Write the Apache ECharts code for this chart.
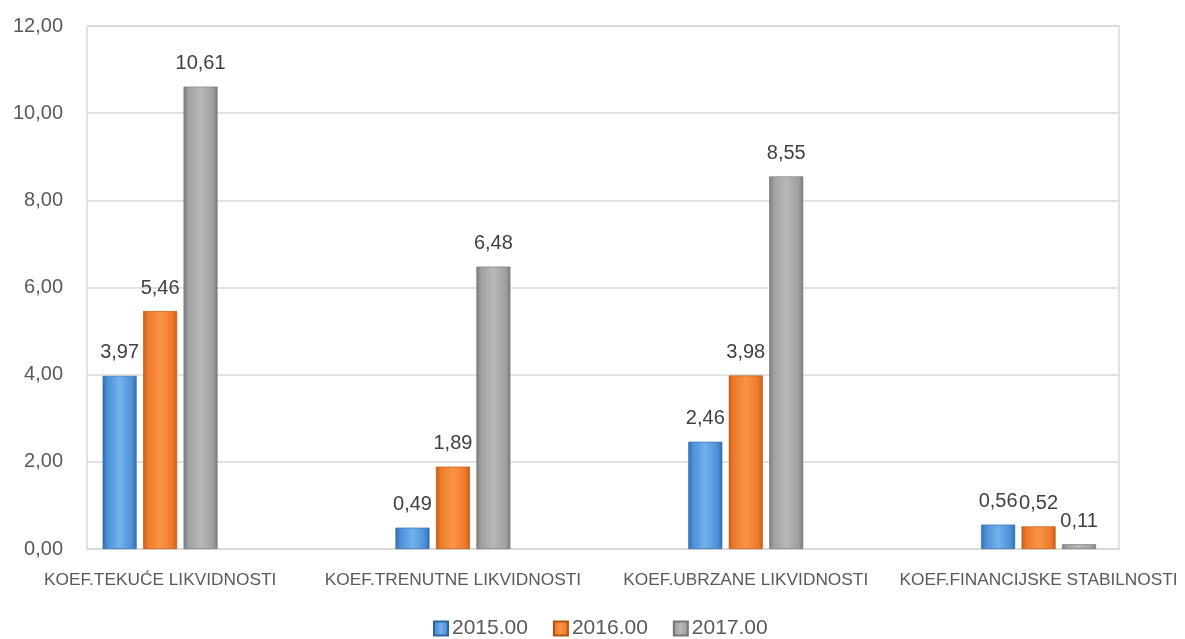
<!DOCTYPE html>
<html>
<head>
<meta charset="utf-8">
<script src="https://cdn.jsdelivr.net/npm/echarts@6/dist/echarts.min.js"></script>
<style>
html,body{margin:0;padding:0;background:#fff;}
#chart{width:1185px;height:639px;}
</style>
</head>
<body>
<div id="chart"></div>
<script>
const categories = ['KOEF.TEKUĆE LIKVIDNOSTI', 'KOEF.TRENUTNE LIKVIDNOSTI', 'KOEF.UBRZANE LIKVIDNOSTI', 'KOEF.FINANCIJSKE STABILNOSTI'];
const seriesNames = ['2015.00', '2016.00', '2017.00'];
const values2015 = [3.97, 0.49, 2.46, 0.56];
const values2016 = [5.46, 1.89, 3.98, 0.52];
const values2017 = [10.61, 6.48, 8.55, 0.11];
const yTicks = [0, 2, 4, 6, 8, 10, 12];

const palettes = [
  { dark: '#2f6fb0', base: '#4c90d8', light: '#74b1ee', border: '#2c64a0' },
  { dark: '#c85e14', base: '#ee7a2a', light: '#fb9446', border: '#b5560f' },
  { dark: '#7c7c7c', base: '#a0a0a0', light: '#b8b8b8', border: '#767676' }
];

function grad(p) {
  return new echarts.graphic.LinearGradient(0, 0, 1, 0, [
    { offset: 0, color: p.dark },
    { offset: 0.14, color: p.base },
    { offset: 0.5, color: p.light },
    { offset: 0.86, color: p.base },
    { offset: 1, color: p.dark }
  ]);
}

const fmt = v => v.toFixed(2).replace('.', ',');
const font = '"Liberation Sans", Arial, sans-serif';
const allValues = [values2015, values2016, values2017];

const chart = echarts.init(document.getElementById('chart'), null, { renderer: 'canvas' });
chart.setOption({
  backgroundColor: '#ffffff',
  animation: false,
  textStyle: { fontFamily: font },
  legend: {
    data: seriesNames.map((n, i) => ({ name: n, itemStyle: { color: grad(palettes[i]) } })),
    top: 613,
    left: 428,
    itemWidth: 14,
    itemHeight: 14,
    itemGap: 25,
    icon: 'rect',
    textStyle: { fontSize: 21, color: '#595959', fontFamily: font, padding: [0, 0, 0, -1] }
  },
  grid: [
    { left: 87, right: 66, top: 26, bottom: 90, show: true, borderColor: '#d9d9d9', borderWidth: 1.5 },
    { left: 13.7, width: 1178.7, top: 26, bottom: 90 }
  ],
  xAxis: [
    { gridIndex: 0, type: 'category', data: categories, axisLine: { show: true, lineStyle: { color: '#d9d9d9', width: 1.5 } }, axisTick: { show: false }, axisLabel: { show: false }, splitLine: { show: false } },
    { gridIndex: 1, type: 'category', data: categories, axisLine: { show: false }, axisTick: { show: false },
      axisLabel: { fontSize: 17.3, color: '#595959', margin: 23, fontFamily: font, interval: 0 } }
  ],
  yAxis: [
    { gridIndex: 0, type: 'value', min: 0, max: 12, interval: 2,
      axisLine: { show: false }, axisTick: { show: false },
      axisLabel: { fontSize: 20, color: '#595959', margin: 24, formatter: fmt, fontFamily: font },
      splitLine: { show: true, lineStyle: { color: '#d9d9d9', width: 1.5 } } },
    { gridIndex: 1, type: 'value', min: 0, max: 12, interval: 2, show: false, splitLine: { show: false } }
  ],
  series: seriesNames.map((n, i) => ({
    name: n,
    type: 'bar',
    xAxisIndex: 1,
    yAxisIndex: 1,
    data: allValues[i],
    barWidth: 34,
    barGap: '19%',
    itemStyle: { color: grad(palettes[i]), borderColor: palettes[i].border, borderWidth: 0.6 },
    label: { show: true, position: 'top', distance: 13, fontSize: 20, color: '#404040', fontFamily: font, formatter: p => fmt(p.value) }
  }))
});
</script>
</body>
</html>
